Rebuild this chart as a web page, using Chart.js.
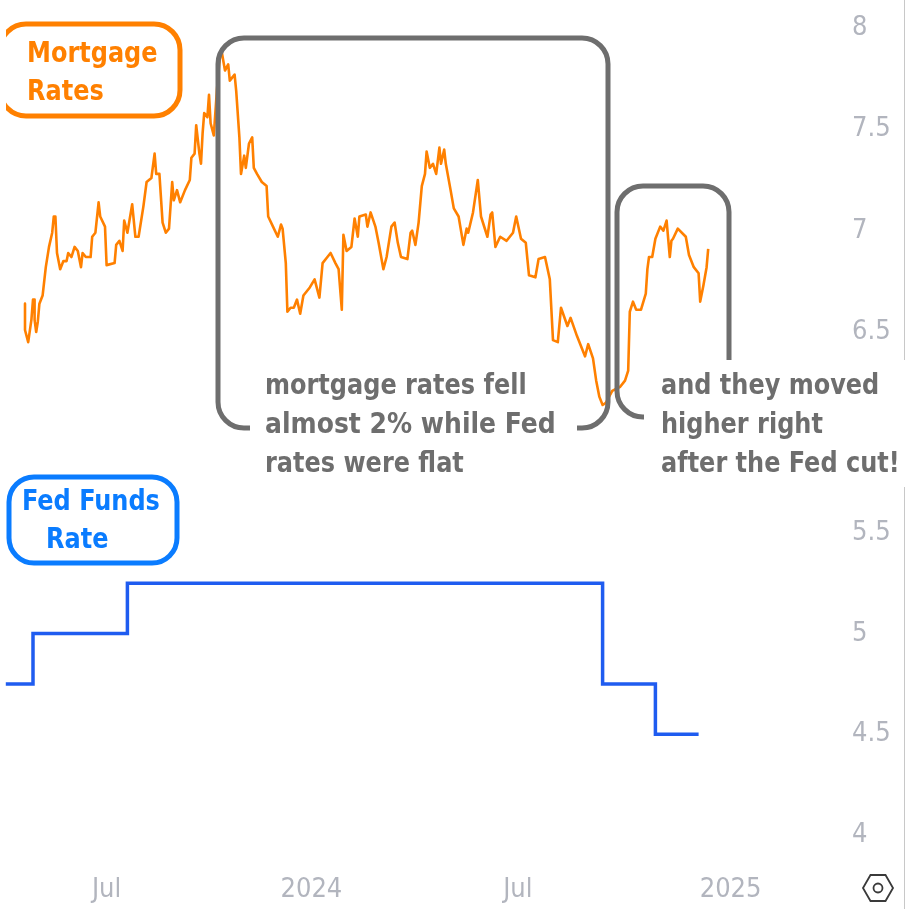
<!DOCTYPE html>
<html><head><meta charset="utf-8">
<style>html,body{margin:0;padding:0;background:#fff}canvas{display:block}</style>
<script src="https://cdn.jsdelivr.net/npm/chart.js@4"></script></head>
<body><canvas id="c" width="906" height="909"></canvas>
<script>
const mortgageSessions=[0,0,2,4,5,6,6,7,8,9,11,13,15,17,18,19,20,22,24,26,27,29,31,33,35,36,38,41,42,44,46,47,50,51,56,57,59,61,62,64,67,69,71,74,76,79,81,82,84,86,88,90,92,93,95,97,100,103,104,106,107,109,110,111,112,114,115,116,118,120,122,123,125,127,128,131,132,134,135,137,138,140,142,143,145,148,151,152,155,158,160,161,163,164,166,168,170,172,174,178,181,184,186,189,191,194,196,198,199,201,204,206,208,209,213,214,216,219,221,224,226,229,231,233,235,239,241,242,244,246,248,250,251,253,255,257,259,260,262,263,266,268,271,274,276,277,280,283,285,289,291,292,294,297,301,305,307,310,313,315,319,321,325,328,330,333,335,339,341,345,350,352,355,357,359,361,363,367,372,375,377,378,380,382,385,388,389,390,392,394,397,399,401,403,404,405,408,413,415,418,421,422,424,426,427];
const mortgageRate=[6.64,6.51,6.45,6.56,6.66,6.66,6.56,6.50,6.55,6.64,6.68,6.82,6.92,6.99,7.07,7.07,6.89,6.81,6.85,6.85,6.89,6.87,6.92,6.90,6.82,6.89,6.87,6.87,6.97,6.99,7.14,7.07,7.02,6.83,6.84,6.93,6.95,6.90,7.05,6.99,7.13,6.97,6.97,7.12,7.24,7.26,7.38,7.28,7.28,7.04,6.99,7.01,7.24,7.15,7.20,7.14,7.20,7.25,7.36,7.38,7.52,7.38,7.33,7.48,7.58,7.56,7.67,7.53,7.47,7.70,7.87,7.88,7.79,7.82,7.74,7.77,7.69,7.46,7.28,7.37,7.31,7.43,7.46,7.31,7.28,7.24,7.22,7.07,7.02,6.97,7.03,7.01,6.84,6.60,6.62,6.62,6.66,6.59,6.68,6.72,6.76,6.67,6.84,6.87,6.89,6.84,6.81,6.61,6.98,6.90,6.92,7.06,6.97,7.07,7.08,7.02,7.09,7.02,6.94,6.81,6.87,7.02,7.04,6.94,6.87,6.86,6.99,7.00,6.93,7.04,7.22,7.28,7.39,7.31,7.33,7.28,7.41,7.33,7.40,7.33,7.20,7.11,7.07,6.93,7.01,6.99,7.09,7.25,7.07,6.97,7.08,7.09,6.92,6.97,6.95,6.99,7.07,6.96,6.94,6.78,6.77,6.86,6.87,6.76,6.46,6.45,6.62,6.53,6.57,6.48,6.38,6.44,6.37,6.26,6.18,6.14,6.15,6.21,6.23,6.26,6.31,6.60,6.65,6.61,6.61,6.69,6.81,6.87,6.87,6.96,7.02,7.00,7.05,6.87,6.95,6.96,7.01,6.97,6.88,6.82,6.79,6.65,6.73,6.82,6.91];
const fedSessions=[-12,5,64,361,394,421];
const fedRate=[4.75,5,5.25,4.75,4.5,4.5];
const xTickSessions=[51,179,308,441];
const xTickLabels=['Jul','2024','Jul','2025'];
const mortgageTicks=[6.5,7,7.5,8];
const fedTicks=[4,4.5,5,5.5];
const mortgageLabel=['Mortgage','Rates'];
const fedLabel=['Fed Funds','Rate'];
const noteOne=['mortgage rates fell','almost 2% while Fed','rates were flat'];
const noteTwo=['and they moved','higher right','after the Fed cut!'];

const GREY='#6e6e6e',ORANGE='#ff8000',BLUE='#0a7cff',TICK='#b2b5be';
const NOTE_FONT='bold 29px "DejaVu Sans Condensed","DejaVu Sans"';
const TICK_FONT={family:'"DejaVu Sans Condensed","DejaVu Sans"',size:27};

function rr(ctx,x,y,w,h,r){ctx.beginPath();ctx.roundRect(x,y,w,h,r);}
function squeezed(ctx,t,x,y,k){ctx.save();ctx.translate(x,y);ctx.scale(k,1);ctx.fillText(t,0,0);ctx.restore();}
const overlay={id:'overlay',afterDatasetsDraw(chart){
  const ctx=chart.ctx;ctx.save();
  ctx.lineCap='butt';
  ctx.strokeStyle='#c8c8c8';ctx.lineWidth=1;
  ctx.beginPath();ctx.moveTo(904.5,0);ctx.lineTo(904.5,360);ctx.moveTo(904.5,487);ctx.lineTo(904.5,909);ctx.stroke();
  ctx.lineWidth=5;
  ctx.save();ctx.beginPath();ctx.rect(6,0,200,200);ctx.clip();
  ctx.strokeStyle=ORANGE;rr(ctx,0,24,180,92,26);ctx.stroke();ctx.restore();
  ctx.strokeStyle=BLUE;rr(ctx,9,477,168,86,25);ctx.stroke();
  ctx.strokeStyle=GREY;
  ctx.beginPath();ctx.moveTo(250,428);ctx.arcTo(218,428,218,38,26);ctx.arcTo(218,38,608,38,26);ctx.arcTo(608,38,608,428,26);ctx.arcTo(608,428,218,428,26);ctx.lineTo(577,428);ctx.stroke();
  ctx.beginPath();ctx.moveTo(644,417);ctx.arcTo(617,417,617,186,26);ctx.arcTo(617,186,729,186,26);ctx.arcTo(729,186,729,360,26);ctx.lineTo(729,360);ctx.stroke();
  ctx.textAlign='left';ctx.textBaseline='alphabetic';ctx.font=NOTE_FONT;
  const k=0.92;
  ctx.fillStyle=ORANGE;squeezed(ctx,mortgageLabel[0],27,62,k);squeezed(ctx,mortgageLabel[1],27,100,k);
  ctx.fillStyle=BLUE;squeezed(ctx,fedLabel[0],22,510,k);squeezed(ctx,fedLabel[1],46,548,k);
  ctx.fillStyle=GREY;
  const widen=[1,1.045,1];
  noteOne.forEach((t,i)=>squeezed(ctx,t,265,394+i*39,k*widen[i]));
  noteTwo.forEach((t,i)=>squeezed(ctx,t,661,394+i*39,k));
  ctx.strokeStyle='#3a3a3a';ctx.lineWidth=1.8;ctx.beginPath();
  for(let i=0;i<6;i++){const a=Math.PI/3*i,px=878+15*Math.cos(a),py=888+15*Math.sin(a);i?ctx.lineTo(px,py):ctx.moveTo(px,py);}
  ctx.closePath();ctx.stroke();
  ctx.beginPath();ctx.arc(878,888,4.5,0,Math.PI*2);ctx.stroke();
  ctx.restore();
}};
const pts=(xs,ys)=>xs.map((x,i)=>({x,y:ys[i]}));
const yAxis=(min,max,weight,list)=>({type:'linear',position:'right',stack:'panes',stackWeight:weight,min,max,
  grid:{display:false,drawTicks:false},border:{display:false},
  afterBuildTicks(s){s.ticks=list.map(v=>({value:v}));},
  afterFit(s){s.width=66;s.paddingTop=0;s.paddingBottom=0;},
  ticks:{color:TICK,font:TICK_FONT,padding:12,align:'center',crossAlign:'near',callback:v=>String(v)}});
new Chart(document.getElementById('c'),{
  type:'line',
  data:{datasets:[
    {label:'Mortgage Rates',data:pts(mortgageSessions,mortgageRate),yAxisID:'yM',borderColor:ORANGE,borderWidth:2.6,pointRadius:0,tension:0,borderJoinStyle:'round'},
    {label:'Fed Funds Rate',data:pts(fedSessions,fedRate),yAxisID:'yF',borderColor:'#1f5cf0',borderWidth:3.5,pointRadius:0,stepped:true}
  ]},
  options:{responsive:false,animation:false,layout:{padding:0},
    plugins:{legend:{display:false},tooltip:{enabled:false}},
    scales:{
      x:{type:'linear',min:-15.625,max:509.375,grid:{display:false,drawTicks:false},border:{display:false},
        afterBuildTicks(s){s.ticks=xTickSessions.map(v=>({value:v}));},
        afterFit(s){s.height=39;s.paddingLeft=0;s.paddingRight=0;},
        ticks:{color:TICK,font:TICK_FONT,padding:4,maxRotation:0,autoSkip:false,callback:v=>xTickLabels[xTickSessions.indexOf(v)]}},
      yM:yAxis(5.77,8.138,480,mortgageTicks),
      yF:yAxis(3.826,5.763,390,fedTicks)
    }},
  plugins:[overlay]
});
</script></body></html>
